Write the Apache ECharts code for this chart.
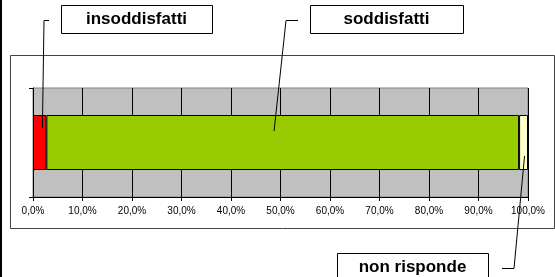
<!DOCTYPE html>
<html>
<head>
<meta charset="utf-8">
<script src="https://cdn.jsdelivr.net/npm/echarts@6/dist/echarts.min.js"></script>
<style>
  html, body { margin: 0; padding: 0; background: #fff; }
  #chart { width: 555px; height: 277px; }
</style>
</head>
<body>
<div id="chart"></div>
<script>
// data (shares of the total)
const categories = ['risposte'];
const seriesNames = ['insoddisfatti', 'soddisfatti', 'non risponde'];
const seriesValues = [0.027, 0.955, 0.018];
const seriesColors = ['#FF0000', '#99CC00', '#FFFFCC'];
// where each callout line touches its segment (as share of the axis)
const pointerAt = [0.019, 0.487, 0.993];
const tickLabels = ['0,0%', '10,0%', '20,0%', '30,0%', '40,0%', '50,0%', '60,0%', '70,0%', '80,0%', '90,0%', '100,0%'];

const FONT = 'Arial, "Liberation Sans", sans-serif';

const chart = echarts.init(document.getElementById('chart'), null, { renderer: 'canvas' });

const option = {
  animation: false,
  backgroundColor: '#fff',
  grid: {
    left: 33, right: 27, top: 88, bottom: 80,
    show: true, backgroundColor: '#C0C0C0', borderColor: '#808080', borderWidth: 1
  },
  xAxis: {
    type: 'value', min: 0, max: 1, interval: 0.1,
    axisLine: { show: true, lineStyle: { color: '#000', width: 1 } },
    axisTick: { show: true, length: 4, lineStyle: { color: '#000' } },
    splitLine: { show: true, lineStyle: { color: '#000', width: 1 } },
    axisLabel: {
      margin: 9, fontSize: 10, color: '#000', fontFamily: FONT,
      formatter: v => tickLabels[Math.round(v * 10)]
    }
  },
  yAxis: {
    type: 'category', data: categories,
    axisLine: { show: true, lineStyle: { color: '#000', width: 1 } },
    axisTick: { show: true, length: 4, lineStyle: { color: '#000' } },
    axisLabel: { show: false },
    splitLine: { show: false }
  },
  series: seriesNames.map((name, i) => ({
    name: name, type: 'bar', stack: 'tot', barWidth: 55,
    data: [seriesValues[i]],
    itemStyle: { color: seriesColors[i], borderColor: '#000', borderWidth: 1 }
  }))
};
chart.setOption(option);

// callout boxes and leader lines
function box(x, y, w, h, label, cx, cy) {
  return [
    { type: 'rect', shape: { x: x + 0.5, y: y + 0.5, width: w, height: h },
      style: { fill: '#fff', stroke: '#000', lineWidth: 1 }, z: 10 },
    { type: 'text', x: cx, y: cy, z: 11,
      style: { text: label, fill: '#000', font: 'bold 17px ' + FONT, align: 'center', verticalAlign: 'middle' } }
  ];
}
function leader(points) {
  return { type: 'polyline', z: 10, shape: { points: points },
    style: { stroke: '#000', lineWidth: 1, fill: null } };
}
const px = pointerAt.map(v => chart.convertToPixel({ xAxisIndex: 0 }, v));

const graphics = [
  { type: 'rect', shape: { x: 0, y: 0, width: 2, height: 277 }, style: { fill: '#000' }, z: 5 },
  { type: 'rect', shape: { x: 10.5, y: 55.5, width: 544, height: 173 },
    style: { fill: null, stroke: '#444', lineWidth: 1 }, z: -1, silent: true },
  ...box(61, 5, 151, 28, seriesNames[0], 136.5, 19.5),
  ...box(310, 5, 153, 28, seriesNames[1], 386.5, 19.5),
  ...box(337, 253, 151, 30, seriesNames[2], 412.5, 267.5),
  leader([[49, 20.5], [44, 20.5], [px[0], 128]]),
  leader([[298, 20.5], [286, 20.5], [px[1], 131]]),
  leader([[502, 268.5], [514, 268.5], [px[2], 156]])
];
chart.setOption({ graphic: graphics });
</script>
</body>
</html>
